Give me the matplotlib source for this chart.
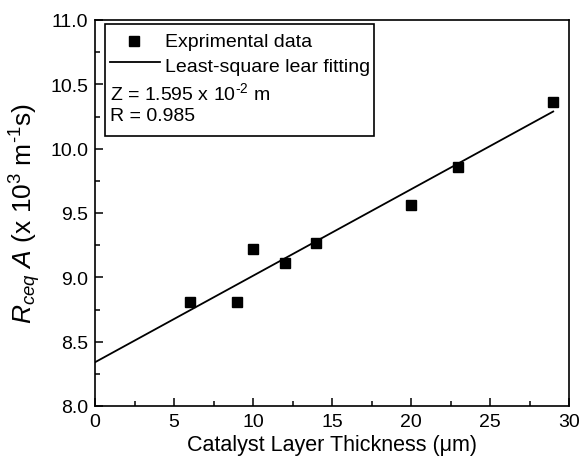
import matplotlib
matplotlib.use("Agg")
import matplotlib.pyplot as plt
from matplotlib.patches import Rectangle
from matplotlib.lines import Line2D
import numpy as np

plt.rcParams['font.family'] = ['Liberation Sans', 'DejaVu Sans']
plt.rcParams['mathtext.fontset'] = 'custom'
plt.rcParams['mathtext.rm'] = 'Liberation Sans'
plt.rcParams['mathtext.it'] = 'Liberation Sans:italic'
plt.rcParams['mathtext.bf'] = 'Liberation Sans:bold'

# Data
thickness = [6, 9, 10, 12, 14, 20, 23, 29]
rceq_a = [8.81, 8.81, 9.22, 9.11, 9.27, 9.56, 9.855, 10.36]
fit_intercept = 8.34
fit_slope = 0.0672
fit_x = [0, 29]

xticks = [0, 5, 10, 15, 20, 25, 30]
yticks = [8.0, 8.5, 9.0, 9.5, 10.0, 10.5, 11.0]

fig = plt.figure(figsize=(5.82, 4.64), dpi=100)
ax = fig.add_axes([95/582, 1-407/464, 474/582, 386/464])

fx = np.array(fit_x, dtype=float)
ax.plot(fx, fit_intercept + fit_slope*fx, color='black', lw=1.3)
ax.plot(thickness, rceq_a, 's', color='black', ms=7, clip_on=False)

ax.set_xlim(0, 30)
ax.set_ylim(8.0, 11.0)
ax.set_xticks(xticks)
ax.set_yticks(yticks)
ax.set_xticklabels([str(t) for t in xticks])
ax.set_yticklabels([f"{t:.1f}" for t in yticks])
ax.set_xticks(np.arange(2.5, 30, 5), minor=True)
ax.set_yticks(np.arange(8.25, 11, 0.5), minor=True)
ax.tick_params(which='both', direction='in', top=False, right=False, labelsize=14, width=1.1)
ax.tick_params(which='major', length=6, pad=5)
ax.tick_params(which='minor', length=3.5)
for s in ax.spines.values():
    s.set_linewidth(1.2)

ax.set_xlabel("Catalyst Layer Thickness (\u03bcm)", fontsize=15.5, labelpad=3)
ax.set_ylabel("$R_{ceq}$ $A$ (x 10$^{3}$ m$^{\u20101}$s)", fontsize=19, labelpad=5)

# Legend box
ax.add_patch(Rectangle((0.021, 0.699), 0.568, 0.291, transform=ax.transAxes,
                       fill=False, edgecolor='black', lw=1.2))
ax.add_line(Line2D([0.082], [0.946], marker='s', ms=7, color='black', transform=ax.transAxes))
ax.add_line(Line2D([0.032, 0.137], [0.890, 0.890], lw=1.3, color='black', transform=ax.transAxes))
fs = 14
ax.text(0.148, 0.933, "Exprimental data", transform=ax.transAxes, va='baseline', ha='left', fontsize=fs)
ax.text(0.148, 0.868, "Least-square lear fitting", transform=ax.transAxes, va='baseline', ha='left', fontsize=fs)
ax.text(0.032, 0.795, "Z = 1.595 x 10$^{\u20102}$ m", transform=ax.transAxes, va='baseline', ha='left', fontsize=fs)
ax.text(0.032, 0.741, "R = 0.985", transform=ax.transAxes, va='baseline', ha='left', fontsize=fs)

fig.savefig("out.png", dpi=100)
